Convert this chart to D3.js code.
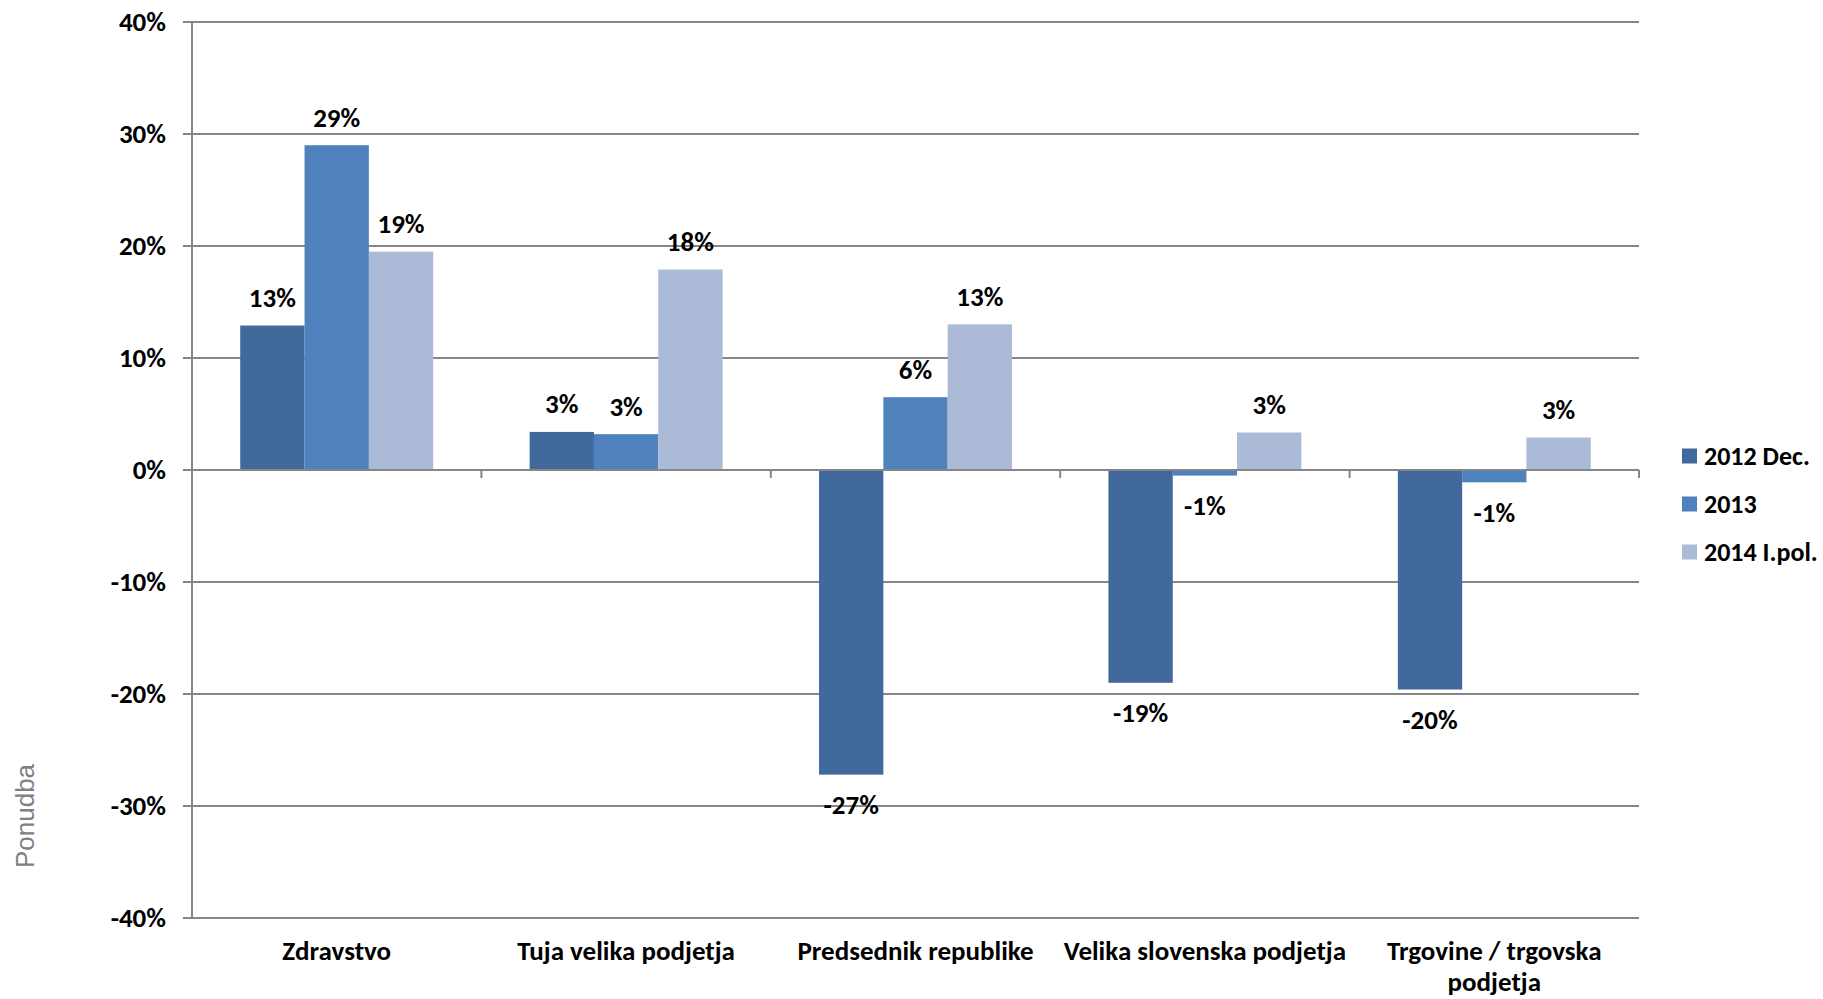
<!DOCTYPE html>
<html>
<head>
<meta charset="utf-8">
<script src="https://cdn.jsdelivr.net/npm/d3@7"></script>
<style>
  body { margin: 0; background: #fff; }
  svg text { font-family: Carlito, Calibri, Lato, "Liberation Sans", sans-serif; }
</style>
</head>
<body>
<svg id="chart" width="1823" height="999"></svg>
<script>
// Data
const categories = ['Zdravstvo', 'Tuja velika podjetja', 'Predsednik republike', 'Velika slovenska podjetja', 'Trgovine / trgovska podjetja'];
const seriesNames = ['2012 Dec.', '2013', '2014 I.pol.'];
const values2012 = [12.9, 3.4, -27.2, -19.0, -19.6];
const values2013 = [29.0, 3.2, 6.5, -0.5, -1.1];
const values2014 = [19.5, 17.9, 13.0, 3.35, 2.9];
const dataLabels2012 = ['13%', '3%', '-27%', '-19%', '-20%'];
const dataLabels2013 = ['29%', '3%', '6%', '-1%', '-1%'];
const dataLabels2014 = ['19%', '18%', '13%', '3%', '3%'];
const yTicks = [-40, -30, -20, -10, 0, 10, 20, 30, 40];
const colors = ['#41699B', '#4F81BD', '#AABAD7'];

const series = [values2012, values2013, values2014];
const labels = [dataLabels2012, dataLabels2013, dataLabels2014];

// Layout
const plot = { left: 192, right: 1639, top: 22, bottom: 918 };
const fontSize = 27;
const svg = d3.select('#chart');

const y = d3.scaleLinear().domain([-40, 40]).range([plot.bottom, plot.top]);
const x0 = d3.scaleBand().domain(categories).range([plot.left, plot.right]).paddingInner(0).paddingOuter(0);
const barW = x0.bandwidth() / 4.5; // Excel gap width 150%
const x1 = d3.scaleBand().domain(seriesNames).range([0, barW * 3]);

const axisColor = '#868686';

// Gridlines
svg.append('g').selectAll('line')
    .data(yTicks)
    .enter().append('line')
    .attr('x1', plot.left - 9).attr('x2', plot.right)
    .attr('y1', d => y(d)).attr('y2', d => y(d))
    .attr('stroke', axisColor).attr('stroke-width', 2);

// Y tick labels
svg.append('g').selectAll('text')
    .data(yTicks)
    .enter().append('text')
    .attr('x', plot.left - 26)
    .attr('y', d => y(d))
    .attr('dy', '0.35em')
    .attr('text-anchor', 'end')
    .attr('font-size', fontSize)
    .attr('font-weight', 'bold')
    .text(d => d + '%');

// Y axis title
svg.append('text')
    .attr('transform', `translate(34,816) rotate(-90)`)
    .attr('text-anchor', 'middle')
    .attr('font-size', 26)
    .attr('fill', '#808080')
    .style('font-family', '"Liberation Sans", Arial, sans-serif')
    .text('Ponudba');

// Bars
const groups = svg.append('g').selectAll('g')
    .data(categories)
    .enter().append('g')
    .attr('transform', d => `translate(${x0(d) + (x0.bandwidth() - barW * 3) / 2},0)`);

groups.each(function(cat, i) {
    const g = d3.select(this);
    seriesNames.forEach((s, j) => {
        const v = series[j][i];
        g.append('rect')
            .attr('x', x1(s))
            .attr('y', y(Math.max(0, v)))
            .attr('width', x1.bandwidth())
            .attr('height', Math.abs(y(v) - y(0)))
            .attr('fill', colors[j]);
        g.append('text')
            .attr('x', x1(s) + x1.bandwidth() / 2)
            .attr('y', v >= 0 ? y(v) - 28 : y(v) + 30)
            .attr('dy', '0.35em')
            .attr('text-anchor', 'middle')
            .attr('font-size', fontSize)
            .attr('font-weight', 'bold')
            .text(labels[j][i]);
    });
});

// Axes lines
svg.append('line')
    .attr('x1', plot.left).attr('x2', plot.left)
    .attr('y1', plot.top).attr('y2', plot.bottom)
    .attr('stroke', axisColor).attr('stroke-width', 2);
svg.append('line')
    .attr('x1', plot.left).attr('x2', plot.right)
    .attr('y1', y(0)).attr('y2', y(0))
    .attr('stroke', axisColor).attr('stroke-width', 2);

// Category tick marks on zero line
svg.append('g').selectAll('line')
    .data(categories.map((c, i) => plot.left + x0.bandwidth() * (i + 1)))
    .enter().append('line')
    .attr('x1', d => d).attr('x2', d => d)
    .attr('y1', y(0)).attr('y2', y(0) + 8)
    .attr('stroke', axisColor).attr('stroke-width', 2);

// Category labels (wrap last one)
const catLines = {
    'Trgovine / trgovska podjetja': ['Trgovine / trgovska', 'podjetja']
};
svg.append('g').selectAll('text')
    .data(categories)
    .enter().append('text')
    .attr('x', d => x0(d) + x0.bandwidth() / 2)
    .attr('y', 951)
    .attr('text-anchor', 'middle')
    .attr('font-size', fontSize)
    .attr('font-weight', 'bold')
    .each(function(d) {
        const lines = catLines[d] || [d];
        const t = d3.select(this);
        lines.forEach((l, k) => {
            t.append('tspan')
                .attr('x', x0(d) + x0.bandwidth() / 2)
                .attr('dy', k === 0 ? '0.35em' : '1.12em')
                .text(l);
        });
    });

// Legend
const legend = svg.append('g').attr('transform', 'translate(1682,456)');
seriesNames.forEach((s, j) => {
    const row = legend.append('g').attr('transform', `translate(0,${j * 48})`);
    row.append('rect')
        .attr('x', 0).attr('y', -7.5)
        .attr('width', 15).attr('height', 15)
        .attr('fill', colors[j]);
    row.append('text')
        .attr('x', 22).attr('y', 0)
        .attr('dy', '0.35em')
        .attr('font-size', 26)
        .attr('font-weight', 'bold')
        .text(s);
});
</script>
</body>
</html>
